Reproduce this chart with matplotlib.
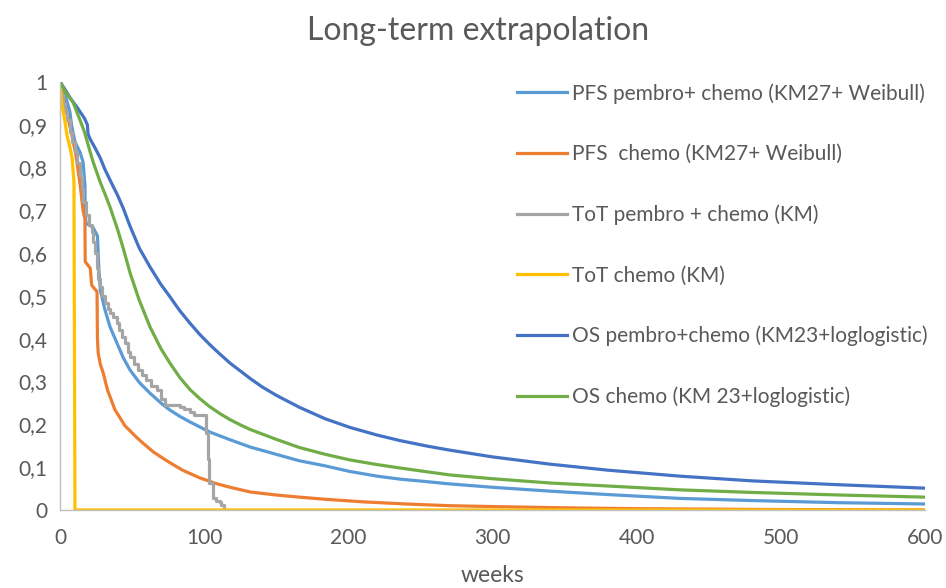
import matplotlib
matplotlib.use("Agg")
import matplotlib.pyplot as plt
from matplotlib.ticker import FuncFormatter

plt.rcParams['font.family'] = ['Lato', 'DejaVu Sans']

# PFS pembro + chemo (KM27 + Weibull)
pfs_pc_w = [0, 3.5, 6.9, 8, 10.4, 13.9, 16, 17.3, 17.5, 18, 23, 26, 27, 28, 31, 34.7, 39.5, 44, 48.6,
            55, 62.4, 70, 76, 83, 90, 97, 104, 118, 132, 150, 166, 184, 201, 220, 236, 255, 270, 300,
            340, 380, 430, 480, 540, 600]
pfs_pc_s = [1.0, 0.97, 0.93, 0.90, 0.86, 0.836, 0.813, 0.76, 0.70, 0.67, 0.66, 0.64, 0.56, 0.514, 0.47,
            0.428, 0.39, 0.355, 0.327, 0.298, 0.273, 0.25, 0.234, 0.219, 0.206, 0.194, 0.182, 0.164,
            0.147, 0.13, 0.115, 0.103, 0.09, 0.079, 0.072, 0.066, 0.061, 0.053, 0.044, 0.036, 0.027,
            0.022, 0.017, 0.014]

# PFS chemo (KM27 + Weibull)
pfs_c_w = [0, 2, 4.6, 8, 11, 14, 16, 17.3, 17.5, 21, 22, 25.7, 26, 26.5, 28, 30, 33, 38, 45, 53, 57.6,
           65, 75, 85, 97, 108, 118, 132, 150, 166, 184, 210, 240, 270, 300, 350, 400, 500, 600]
pfs_c_s = [1.0, 0.97, 0.93, 0.88, 0.83, 0.76, 0.70, 0.68, 0.58, 0.565, 0.525, 0.51, 0.40, 0.367, 0.34,
           0.32, 0.28, 0.235, 0.197, 0.17, 0.156, 0.135, 0.113, 0.093, 0.075, 0.062, 0.053, 0.042,
           0.035, 0.03, 0.025, 0.019, 0.014, 0.010, 0.008, 0.005, 0.003, 0.001, 0.0]

# ToT pembro + chemo (KM)
tot_pc_w = [0, 0.5, 2, 3.5, 5, 7, 8.5, 10.4, 12, 14, 15, 16, 18, 20, 22.5, 23, 24.5, 25.5, 26.5, 27.7,
            29, 31, 33, 34.7, 37, 39.5, 41, 43, 45, 47, 48.6, 51, 54, 57, 60, 63, 67, 70, 72.8, 83, 86,
            90, 93, 101.5, 102.5, 103.5, 106, 108, 111, 112, 113.5]
tot_pc_s = [1.0, 0.97, 0.95, 0.93, 0.91, 0.883, 0.86, 0.836, 0.81, 0.78, 0.75, 0.72, 0.69, 0.666, 0.65,
            0.626, 0.6, 0.565, 0.54, 0.52, 0.50, 0.484, 0.47, 0.46, 0.45, 0.437, 0.42, 0.404, 0.39, 0.37,
            0.357, 0.34, 0.327, 0.315, 0.304, 0.29, 0.28, 0.26, 0.245, 0.241, 0.235, 0.229, 0.222, 0.18,
            0.12, 0.063, 0.028, 0.022, 0.019, 0.012, 0.005]

# ToT chemo (KM)
tot_c_w = [0, 1.4, 3.5, 4.8, 7, 8.5, 9.7, 10.4, 600]
tot_c_s = [1.0, 0.946, 0.907, 0.876, 0.846, 0.82, 0.766, 0.0, 0.0]

# OS pembro + chemo (KM23 + loglogistic)
os_pc_w = [0, 3, 7, 12, 17, 19, 19.5, 21, 24, 28, 31, 34.7, 40, 44, 48.6, 55, 62.4, 70, 76.3, 83, 90,
           97, 104, 111, 118, 125, 132, 140, 150, 166, 184, 201, 220, 236, 255, 270, 300, 340, 380,
           430, 480, 540, 600]
os_pc_s = [1.0, 0.985, 0.963, 0.94, 0.915, 0.90, 0.878, 0.866, 0.848, 0.822, 0.797, 0.771, 0.735, 0.704,
           0.663, 0.612, 0.568, 0.527, 0.498, 0.466, 0.437, 0.41, 0.386, 0.364, 0.343, 0.325, 0.307,
           0.288, 0.268, 0.24, 0.213, 0.193, 0.175, 0.162, 0.149, 0.14, 0.124, 0.107, 0.093, 0.079,
           0.068, 0.059, 0.051]

# OS chemo (KM 23 + loglogistic)
os_c_w = [0, 4, 9, 14, 17, 20.8, 23, 28, 31, 34.7, 40, 44, 48.6, 55, 62.4, 70, 76.3, 83, 90, 97, 104,
          111, 118, 125, 132, 150, 166, 184, 201, 220, 236, 255, 270, 300, 340, 380, 430, 480, 540, 600]
os_c_s = [1.0, 0.975, 0.953, 0.91, 0.883, 0.838, 0.813, 0.765, 0.74, 0.708, 0.655, 0.61, 0.554, 0.49,
          0.428, 0.377, 0.343, 0.31, 0.282, 0.26, 0.241, 0.225, 0.211, 0.199, 0.188, 0.165, 0.146,
          0.13, 0.117, 0.106, 0.098, 0.089, 0.082, 0.073, 0.063, 0.056, 0.047, 0.041, 0.035, 0.030]

labels = ["PFS pembro+ chemo (KM27+ Weibull)", "PFS  chemo (KM27+ Weibull)",
          "ToT pembro + chemo (KM)", "ToT chemo (KM)",
          "OS pembro+chemo (KM23+loglogistic)", "OS chemo (KM 23+loglogistic)"]
colors = ["#5B9BD5", "#ED7D31", "#A5A5A5", "#FFC000", "#4472C4", "#70AD47"]
text_col = "#595959"

fig = plt.figure(figsize=(9.46, 5.88), dpi=100)
ax = fig.add_axes([0.0634, 0.1327, 0.9144, 0.7279])

lw = 2.3
ax.plot(pfs_pc_w, pfs_pc_s, color=colors[0], lw=lw, label=labels[0])
ax.plot(pfs_c_w, pfs_c_s, color=colors[1], lw=lw, label=labels[1])
ax.plot(tot_pc_w, tot_pc_s, color=colors[2], lw=lw, label=labels[2], drawstyle='steps-post')
ax.plot(tot_c_w, tot_c_s, color=colors[3], lw=lw, label=labels[3])
ax.plot(os_pc_w, os_pc_s, color=colors[4], lw=lw, label=labels[4])
ax.plot(os_c_w, os_c_s, color=colors[5], lw=lw, label=labels[5])

ax.set_xlim(0, 600)
ax.set_ylim(0, 1)
ax.set_xticks(range(0, 601, 100))
ax.set_yticks([i / 10 for i in range(11)])
ax.yaxis.set_major_formatter(FuncFormatter(lambda v, p: "{:g}".format(round(v, 1)).replace(".", ",")))
ax.tick_params(length=0, labelsize=15, colors=text_col, pad=9)
ax.tick_params(axis='x', pad=13)
for s in ['top', 'right']:
    ax.spines[s].set_visible(False)
for s in ['left', 'bottom']:
    ax.spines[s].set_color("#BFBFBF")
    ax.spines[s].set_linewidth(1)

ax.set_xlabel("weeks", fontsize=16.5, color=text_col, labelpad=12)
fig.text(0.505, 0.948, "Long-term extrapolation", fontsize=23, color=text_col, ha='center', va='center')

leg = ax.legend(loc='upper left', bbox_to_anchor=(517 / 946, 1 - 83 / 588), bbox_transform=fig.transFigure,
                frameon=False, fontsize=15, handlelength=2.4, handletextpad=0.25, labelspacing=1.94,
                borderpad=0, borderaxespad=0)
for t in leg.get_texts():
    t.set_color(text_col)

fig.savefig("out.png", dpi=100, facecolor="white")
